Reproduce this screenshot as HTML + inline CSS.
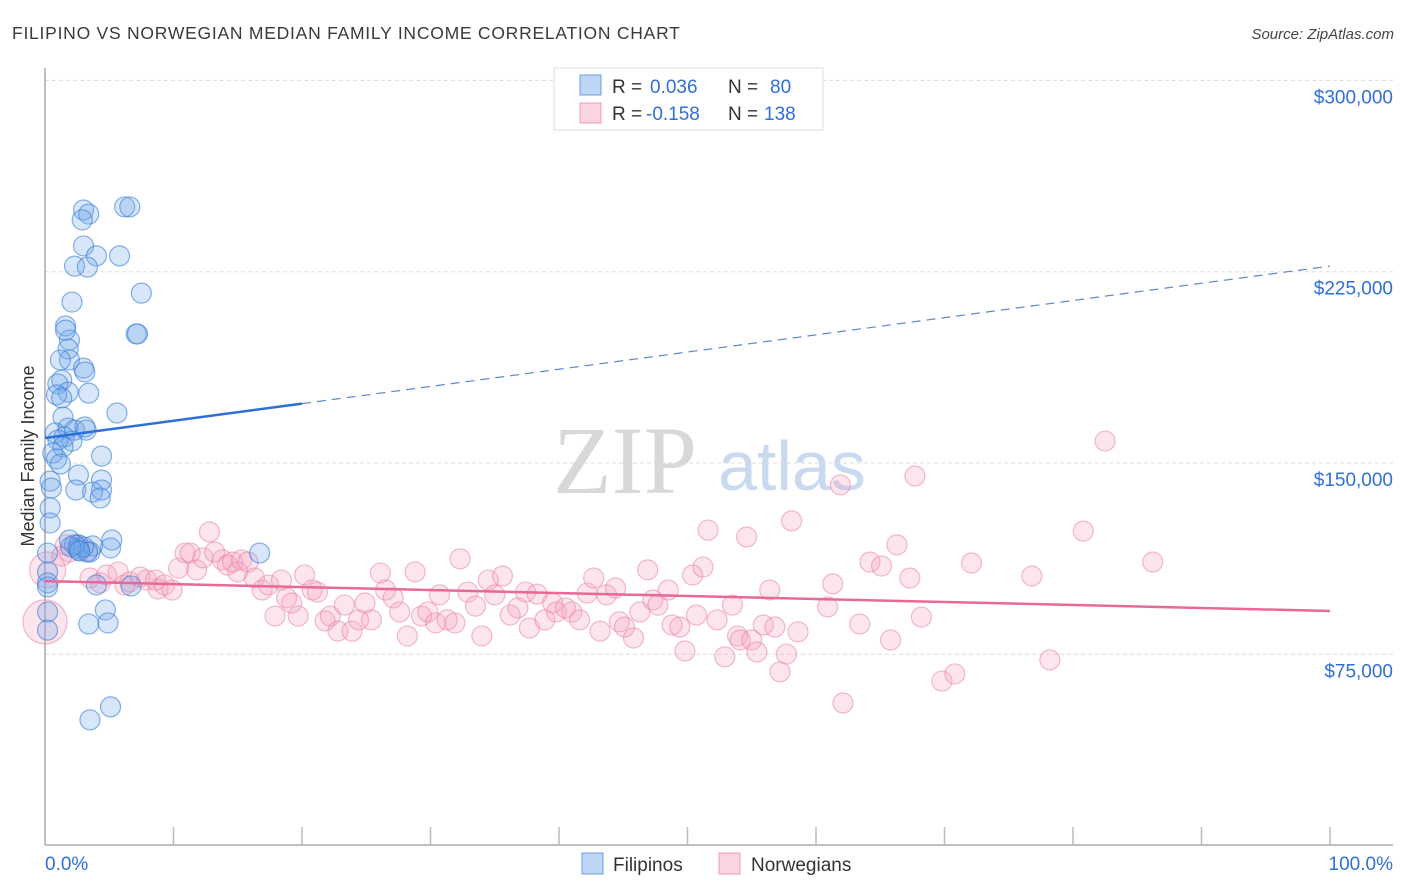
<!DOCTYPE html>
<html><head><meta charset="utf-8">
<style>
body{margin:0;background:#fff;font-family:"Liberation Sans",sans-serif;}
#wrap{position:relative;width:1406px;height:892px;overflow:hidden;}
</style></head>
<body>
<div id="wrap">
<svg id="chart" width="1406" height="892" xmlns="http://www.w3.org/2000/svg">
<text x="12" y="39" font-size="17.5" fill="#3a3a3a" letter-spacing="0.75">FILIPINO VS NORWEGIAN MEDIAN FAMILY INCOME CORRELATION CHART</text>
<text x="1394" y="39" font-size="15" fill="#444" font-style="italic" text-anchor="end">Source: ZipAtlas.com</text>
<g>
<text x="553" y="493" font-family="Liberation Serif,serif" font-size="96" fill="#d8d8d8">ZIP</text>
<text x="718" y="490" font-size="70" fill="#c9daf0">atlas</text>
</g>
<g id="grid"></g>
<g id="axes"></g>
<g id="pts"></g>
<g id="trend"></g>
<text transform="translate(34,456) rotate(-90)" font-size="18" fill="#333" text-anchor="middle">Median Family Income</text>
<g>
<rect x="554" y="68" width="269" height="62" fill="#fff" stroke="#ddd"/>
<rect x="580" y="75" width="21" height="20" fill="rgba(110,165,235,0.45)" stroke="#6a9fe0"/>
<rect x="580" y="103" width="21" height="20" fill="rgba(245,160,190,0.45)" stroke="#ee9cb8"/>
<text x="612" y="93" font-size="19" fill="#333">R = <tspan fill="#2f6fd6" x="650">0.036</tspan><tspan x="728">N = </tspan><tspan fill="#2f6fd6" x="770">80</tspan></text>
<text x="612" y="120" font-size="19" fill="#333">R = <tspan fill="#2f6fd6" x="646">-0.158</tspan><tspan x="728">N = </tspan><tspan fill="#2f6fd6" x="764">138</tspan></text>
</g>
<g>
<rect x="582" y="853" width="21" height="21" fill="rgba(110,165,235,0.45)" stroke="#6a9fe0"/>
<text x="613" y="871" font-size="19" fill="#333">Filipinos</text>
<rect x="719" y="853" width="21" height="21" fill="rgba(245,160,190,0.45)" stroke="#ee9cb8"/>
<text x="751" y="871" font-size="19" fill="#333">Norwegians</text>
</g>
</svg>
</div>
<script>
const yTicks=[75000,150000,225000,300000];
const yTickLabels=["$75,000","$150,000","$225,000","$300,000"];
const xTickLabels=["0.0%","100.0%"];
const blueX=[3.0,3.4,2.9,6.2,6.6,3.0,4.0,5.8,2.3,3.3,7.5,2.1,1.6,1.9,1.8,7.1,7.2,1.9,3.0,3.1,1.3,1.0,1.8,3.4,0.9,1.3,5.6,1.4,0.8,1.8,2.3,3.2,1.5,2.1,1.0,1.4,4.4,0.6,0.9,1.2,2.6,4.4,0.4,0.5,2.4,3.7,4.4,4.3,0.4,0.4,1.9,2.6,2.6,3.7,5.2,5.1,3.5,16.7,0.2,0.2,0.2,0.2,4.0,6.7,4.7,3.4,4.9,0.2,0.2,3.5,5.1,2.6,3.3,3.0,2.3,2.0,2.7,1.2,1.6,3.1];
const blueY=[249.2,247.6,245.3,250.4,250.4,235.1,231.2,231.2,227.2,226.8,216.6,213.1,203.7,198.2,194.7,200.6,200.6,190.4,187.2,185.7,182.5,181.0,177.8,177.4,176.7,175.5,169.6,168.0,161.8,163.7,162.9,162.9,160.2,158.6,159.0,156.3,152.7,153.9,151.6,149.6,145.3,143.3,142.9,140.2,139.4,138.6,139.4,136.3,132.4,126.5,119.8,117.9,115.9,117.5,119.8,116.7,115.1,114.7,114.7,107.3,103.0,101.4,102.2,101.8,92.4,86.9,87.3,91.6,84.5,49.3,54.4,116.7,115.1,117.1,117.9,117.1,115.5,190.4,202.1,164.1];
const pinkX=[0.0,0.2,1.9,3.3,1.6,2.6,1.3,3.5,4.3,4.8,5.7,6.2,6.6,7.4,7.9,8.6,8.8,9.3,9.9,10.4,10.9,11.3,11.8,12.3,12.8,13.2,13.8,14.2,14.6,15.0,15.3,15.8,16.3,16.9,17.4,17.9,18.4,18.8,19.2,19.7,20.2,20.8,21.2,21.8,22.2,22.8,23.3,23.9,24.4,24.9,25.4,26.1,26.5,27.1,27.6,28.2,28.8,29.3,29.8,30.4,30.7,31.3,31.9,32.3,32.9,33.5,34.0,34.5,35.0,35.6,36.2,36.8,37.4,37.7,38.3,38.9,39.5,39.8,40.5,41.0,41.6,42.2,42.7,43.2,43.7,44.4,44.7,45.1,45.8,46.3,46.9,47.3,47.7,48.5,48.8,49.4,49.8,50.4,50.7,51.2,51.6,52.3,52.9,53.5,53.9,54.1,54.6,55.0,55.4,55.9,56.4,56.8,57.2,57.7,58.1,58.6,60.9,61.3,61.9,62.1,63.4,64.2,65.1,65.8,66.3,67.3,67.7,68.2,69.8,70.8,72.1,76.8,78.2,80.8,82.5,86.2];
const pinkY=[87.7,108.1,115.1,115.5,117.9,117.9,113.5,104.9,103.0,106.1,107.3,102.2,103.4,105.3,104.1,104.1,100.6,102.2,100.2,108.8,114.7,114.7,108.1,112.8,123.0,115.1,112.0,110.0,111.2,107.3,112.0,111.2,104.9,100.2,102.2,90.0,104.1,97.1,95.1,90.0,106.1,100.2,99.4,88.1,90.0,84.1,94.3,84.1,88.5,95.1,88.5,106.9,100.2,97.1,91.6,82.2,107.3,90.0,91.6,87.3,98.3,88.5,87.3,112.4,99.4,93.9,82.2,104.1,98.3,105.7,90.4,93.2,99.4,85.3,98.6,88.5,95.1,91.6,93.2,91.6,88.5,99.0,104.9,84.1,98.3,101.0,87.7,85.7,81.4,91.6,108.1,96.3,94.3,100.2,86.5,85.7,76.3,106.1,90.4,109.2,123.7,88.5,74.0,94.3,82.2,80.6,121.0,80.6,75.9,86.5,100.2,85.7,68.1,75.1,127.3,83.8,93.6,102.6,141.4,55.9,86.9,111.2,109.6,80.6,117.9,104.9,144.9,89.6,64.5,67.3,110.8,105.7,72.8,123.3,158.6,111.2];
const blueTrend=[159.8,227.2];
const pinkTrend=[103.7,92.0];

const NS="http://www.w3.org/2000/svg";
const X0=45,X1=1330,YB=845;
function sx(p){return X0+p*(X1-X0)/100;}
function sy(v){return 463-(v-150000)*191.3/75000;}
function mk(tag,attrs,parent){const e=document.createElementNS(NS,tag);for(const k in attrs)e.setAttribute(k,attrs[k]);parent.appendChild(e);return e;}
const grid=document.getElementById('grid'),axes=document.getElementById('axes'),pts=document.getElementById('pts'),trend=document.getElementById('trend');
yTicks.forEach((t,i)=>{
 const l=mk('line',{x1:X0,x2:1393,y1:sy(t),y2:sy(t),stroke:'#ddd','stroke-dasharray':'4,3'},grid);
 
 
 const tx=mk('text',{x:1393,y:sy(t)+23,'font-size':19,fill:'#2f6fd6','text-anchor':'end'},axes);
 tx.textContent=yTickLabels[i];
 
 
});
const ya=mk('line',{x1:X0,x2:X0,y1:68,y2:YB,stroke:'#aaa','stroke-width':1.5},axes);


const xa=mk('line',{x1:X0,x2:1393,y1:YB,y2:YB,stroke:'#aaa','stroke-width':1.5},axes);


for(let i=1;i<=10;i++){
 const tk=mk('line',{x1:sx(i*10),x2:sx(i*10),y1:YB,y2:YB-18,stroke:'#bbb','stroke-width':1.5},axes);
 
 
}
[[X0,'start',0],[1393,'end',1]].forEach(a=>{
 const t=mk('text',{x:a[0],y:870,'font-size':19,fill:'#2f6fd6','text-anchor':a[1]},axes);
 t.textContent=xTickLabels[a[2]];
 
 
});
pinkX.forEach((x,i)=>{
 const r=i==0?22:(i==1?18:10);
 const c=mk('circle',{cx:sx(x),cy:sy(pinkY[i]*1000),r:r,fill:'rgba(245,160,190,0.28)',stroke:'rgba(235,130,165,0.55)','stroke-width':1.2},pts);
 
 
});
blueX.forEach((x,i)=>{
 const c=mk('circle',{cx:sx(x),cy:sy(blueY[i]*1000),r:10,fill:'rgba(110,165,235,0.28)',stroke:'rgba(55,125,220,0.6)','stroke-width':1.2},pts);
 
 
});
function by(p){return blueTrend[0]+(blueTrend[1]-blueTrend[0])*p/100;}
const b1=mk('line',{x1:sx(0),y1:sy(by(0)*1000),x2:sx(20),y2:sy(by(20)*1000),stroke:'#2d6fd6','stroke-width':2.5},trend);


const b2=mk('line',{x1:sx(20),y1:sy(by(20)*1000),x2:sx(100),y2:sy(by(100)*1000),stroke:'#5a88cc','stroke-width':1.2,'stroke-dasharray':'9,6'},trend);


const p1=mk('line',{x1:sx(0),y1:sy(pinkTrend[0]*1000),x2:sx(100),y2:sy(pinkTrend[1]*1000),stroke:'#e8689a','stroke-width':2.5},trend);


</script>
</body></html>
